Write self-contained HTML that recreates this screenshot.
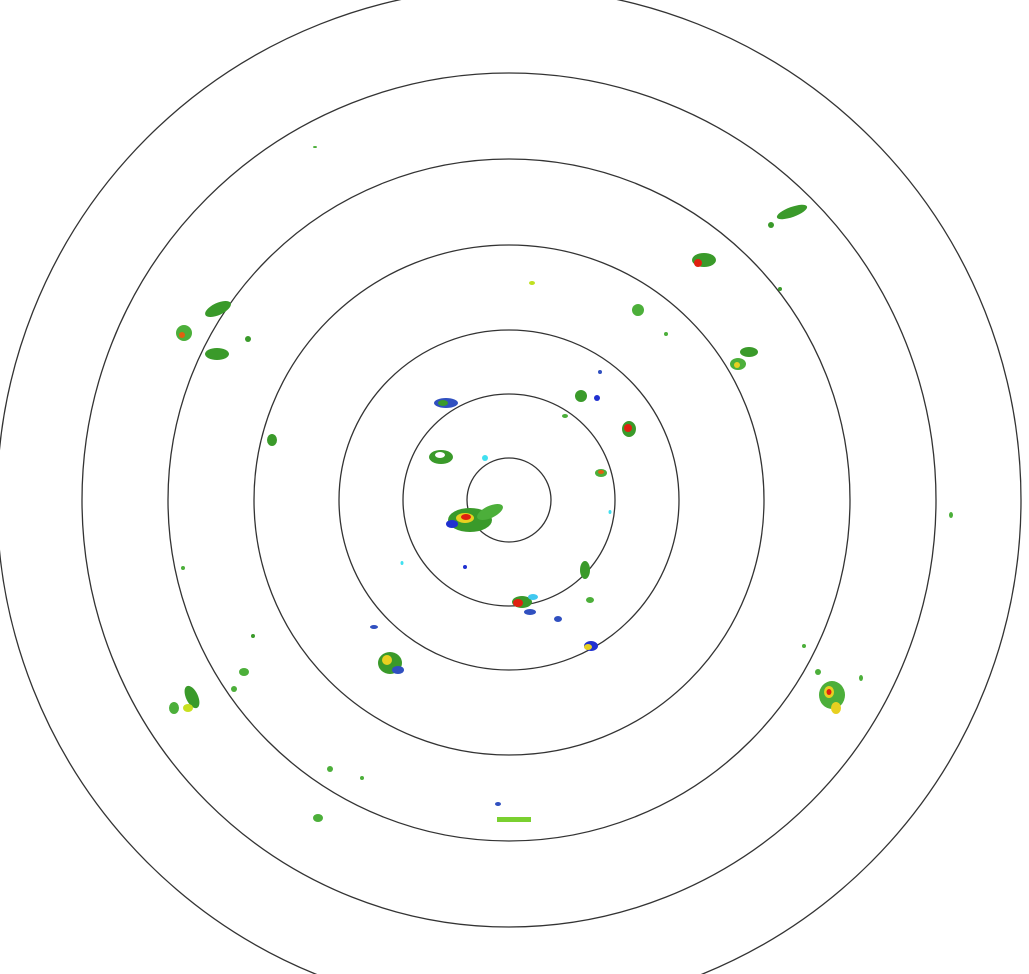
<!DOCTYPE html>
<html><head><style>html,body{margin:0;padding:0;background:#fff;width:1029px;height:974px;overflow:hidden}</style></head>
<body>
<svg width="1029" height="974" viewBox="0 0 1029 974" xmlns="http://www.w3.org/2000/svg">
<rect width="1029" height="974" fill="#fff"/>
<g fill="none" stroke="#333" stroke-width="1.3">
<circle cx="509" cy="500" r="42"/>
<circle cx="509" cy="500" r="106"/>
<circle cx="509" cy="500" r="170"/>
<circle cx="509" cy="500" r="255"/>
<circle cx="509" cy="500" r="341"/>
<circle cx="509" cy="500" r="427"/>
<circle cx="509" cy="500" r="512"/>
</g>
<g>
<!-- central cluster -->
<ellipse cx="470" cy="520" rx="22" ry="12" fill="#3a9a2a"/>
<ellipse cx="490" cy="512" rx="14" ry="6" fill="#4caf3a" transform="rotate(-25 490 512)"/>
<ellipse cx="465" cy="518" rx="9" ry="5" fill="#e8d020"/>
<ellipse cx="466" cy="517" rx="5" ry="3" fill="#e02010"/>
<ellipse cx="452" cy="524" rx="6" ry="4" fill="#2030d0"/>
<ellipse cx="441" cy="457" rx="12" ry="7" fill="#3a9a2a"/>
<ellipse cx="440" cy="455" rx="5" ry="3" fill="#fff"/>
<ellipse cx="446" cy="403" rx="12" ry="5" fill="#3050c0"/>
<ellipse cx="443" cy="403" rx="5" ry="3" fill="#3a9a2a"/>
<ellipse cx="485" cy="458" rx="3" ry="3" fill="#40e0f0"/>
<!-- south near ring -->
<ellipse cx="522" cy="602" rx="10" ry="6" fill="#3a9a2a"/>
<ellipse cx="518" cy="603" rx="5" ry="4" fill="#e02010"/>
<ellipse cx="533" cy="597" rx="5" ry="3" fill="#40c8f0"/>
<ellipse cx="530" cy="612" rx="6" ry="3" fill="#3050c0"/>
<ellipse cx="585" cy="570" rx="5" ry="9" fill="#3a9a2a"/>
<ellipse cx="590" cy="600" rx="4" ry="3" fill="#4caf3a"/>
<ellipse cx="591" cy="646" rx="7" ry="5" fill="#2030d0"/>
<ellipse cx="588" cy="647" rx="4" ry="3" fill="#e8d020"/>
<ellipse cx="558" cy="619" rx="4" ry="3" fill="#3050c0"/>
<!-- NE inner -->
<ellipse cx="581" cy="396" rx="6" ry="6" fill="#3a9a2a"/>
<ellipse cx="597" cy="398" rx="3" ry="3" fill="#2030d0"/>
<ellipse cx="629" cy="429" rx="7" ry="8" fill="#3a9a2a"/>
<ellipse cx="628" cy="428" rx="4" ry="4" fill="#e02010"/>
<ellipse cx="601" cy="473" rx="6" ry="4" fill="#4caf3a"/>
<ellipse cx="601" cy="472" rx="3" ry="2" fill="#e06010"/>
<ellipse cx="565" cy="416" rx="3" ry="2" fill="#4caf3a"/>
<!-- others -->
<ellipse cx="390" cy="663" rx="12" ry="11" fill="#3a9a2a"/>
<ellipse cx="387" cy="660" rx="5" ry="5" fill="#e8d020"/>
<ellipse cx="398" cy="670" rx="6" ry="4" fill="#3050c0"/>
<ellipse cx="374" cy="627" rx="4" ry="2" fill="#3050c0"/>
<ellipse cx="638" cy="310" rx="6" ry="6" fill="#4caf3a"/>
<ellipse cx="704" cy="260" rx="12" ry="7" fill="#3a9a2a"/>
<ellipse cx="698" cy="263" rx="4" ry="4" fill="#e02010"/>
<ellipse cx="792" cy="212" rx="16" ry="5" fill="#3a9a2a" transform="rotate(-20 792 212)"/>
<ellipse cx="771" cy="225" rx="3" ry="3" fill="#3a9a2a"/>
<ellipse cx="749" cy="352" rx="9" ry="5" fill="#3a9a2a"/>
<ellipse cx="738" cy="364" rx="8" ry="6" fill="#4caf3a"/>
<ellipse cx="737" cy="365" rx="3" ry="3" fill="#e8d020"/>
<ellipse cx="532" cy="283" rx="3" ry="2" fill="#c0e020"/>
<ellipse cx="218" cy="309" rx="14" ry="6" fill="#3a9a2a" transform="rotate(-25 218 309)"/>
<ellipse cx="184" cy="333" rx="8" ry="8" fill="#4caf3a"/>
<ellipse cx="182" cy="335" rx="3" ry="3" fill="#e06010"/>
<ellipse cx="217" cy="354" rx="12" ry="6" fill="#3a9a2a"/>
<ellipse cx="248" cy="339" rx="3" ry="3" fill="#3a9a2a"/>
<ellipse cx="272" cy="440" rx="5" ry="6" fill="#3a9a2a"/>
<ellipse cx="192" cy="697" rx="6" ry="12" fill="#3a9a2a" transform="rotate(-25 192 697)"/>
<ellipse cx="174" cy="708" rx="5" ry="6" fill="#4caf3a"/>
<ellipse cx="188" cy="708" rx="5" ry="4" fill="#c8e020"/>
<ellipse cx="244" cy="672" rx="5" ry="4" fill="#4caf3a"/>
<ellipse cx="234" cy="689" rx="3" ry="3" fill="#4caf3a"/>
<ellipse cx="253" cy="636" rx="2" ry="2" fill="#3a9a2a"/>
<ellipse cx="832" cy="695" rx="13" ry="14" fill="#4caf3a"/>
<ellipse cx="829" cy="692" rx="5" ry="6" fill="#e8d020"/>
<ellipse cx="829" cy="692" rx="2.5" ry="3" fill="#e02010"/>
<ellipse cx="836" cy="708" rx="5" ry="6" fill="#e8d020"/>
<ellipse cx="818" cy="672" rx="3" ry="3" fill="#4caf3a"/>
<ellipse cx="804" cy="646" rx="2" ry="2" fill="#4caf3a"/>
<ellipse cx="861" cy="678" rx="2" ry="3" fill="#4caf3a"/>
<ellipse cx="951" cy="515" rx="2" ry="3" fill="#4caf3a"/>
<rect x="497" y="817" width="34" height="5" fill="#7ad030"/>
<ellipse cx="498" cy="804" rx="3" ry="2" fill="#3050c0"/>
<ellipse cx="318" cy="818" rx="5" ry="4" fill="#4caf3a"/>
<ellipse cx="330" cy="769" rx="3" ry="3" fill="#4caf3a"/>
<ellipse cx="362" cy="778" rx="2" ry="2" fill="#4caf3a"/>
<ellipse cx="183" cy="568" rx="2" ry="2" fill="#4caf3a"/>
<ellipse cx="315" cy="147" rx="2" ry="1" fill="#4caf3a"/>
<ellipse cx="666" cy="334" rx="2" ry="2" fill="#4caf3a"/>
<ellipse cx="780" cy="289" rx="2" ry="2" fill="#3a9a2a"/>
<ellipse cx="402" cy="563" rx="1.5" ry="2" fill="#40e0f0"/>
<ellipse cx="465" cy="567" rx="2" ry="2" fill="#2030d0"/>
<ellipse cx="610" cy="512" rx="1.5" ry="2" fill="#40e0f0"/>
<ellipse cx="600" cy="372" rx="2" ry="2" fill="#3050c0"/>
</g>
</svg>
</body></html>
